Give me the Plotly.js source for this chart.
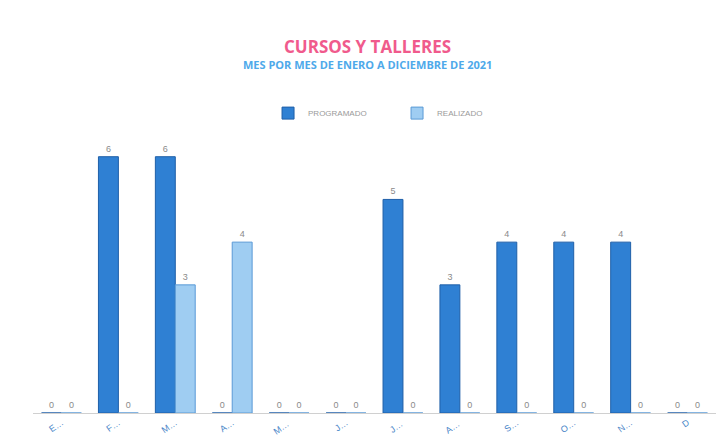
<!DOCTYPE html>
<html>
<head>
<meta charset="utf-8">
<script src="https://cdn.plot.ly/plotly-3.0.1.min.js"></script>
<style>html,body{margin:0;padding:0;background:#fff;}#chart{width:723px;height:444px;}</style>
</head>
<body>
<div id="chart"></div>
<script>
const months = ["E…","F…","M…","A…","M… ","J…","J… ","A… ","S…","O…","N…","D"];
const programado = [0,6,6,0,0,0,5,3,4,4,4,0];
const realizado = [0,0,3,4,0,0,0,0,0,0,0,0];

const traces = [
  {type:'bar', name:'PROGRAMADO', x:months, y:programado,
   marker:{color:'#2f80d3', line:{color:'#1f5fa8', width:1}},
   text:programado.map(String), textposition:'outside', cliponaxis:false,
   textfont:{family:'Liberation Sans, Arial', size:9, color:'#8a8a8a'}},
  {type:'bar', name:'REALIZADO', x:months, y:realizado,
   marker:{color:'#9fcdf2', line:{color:'#5a9ad6', width:1}},
   text:realizado.map(String), textposition:'outside', cliponaxis:false,
   textfont:{family:'Liberation Sans, Arial', size:9, color:'#8a8a8a'}}
];

const layout = {
  width:723, height:444,
  margin:{l:33, r:7, t:114, b:31},
  paper_bgcolor:'#fff', plot_bgcolor:'#fff',
  showlegend:true,
  legend:{orientation:'h', x:0.533, xanchor:'center', y:1.003, yanchor:'middle',
          font:{family:'Liberation Sans, Arial', size:8, color:'#9a9a9a'},
          entrywidth:84, entrywidthmode:'pixels', itemwidth:30},
  bargap:0.3, bargroupgap:0.0,
  xaxis:{type:'category', showgrid:false, showline:true, linecolor:'#d0d0d0', linewidth:1,
         tickangle:-35, ticks:'', ticklen:6, tickfont:{family:'Liberation Sans, Arial', size:9, color:'#4a86c8'}},
  yaxis:{range:[0,7], visible:false, showgrid:false, zeroline:false},
  annotations:[
    {text:'<b>CURSOS Y TALLERES</b>', xref:'paper', yref:'paper', x:0.49, xanchor:'center',
     y:1.2274, yanchor:'middle', showarrow:false,
     font:{family:'Open Sans, Liberation Sans', size:17, color:'#f05a8c'}},
    {text:'<b>MES POR MES DE ENERO A DICIEMBRE DE 2021</b>', xref:'paper', yref:'paper', x:0.49, xanchor:'center',
     y:1.167, yanchor:'middle', showarrow:false,
     font:{family:'Open Sans, Liberation Sans', size:11, color:'#4ea9ea'}}
  ]
};
Plotly.newPlot('chart', traces, layout, {displayModeBar:false, staticPlot:true});
</script>
</body>
</html>
